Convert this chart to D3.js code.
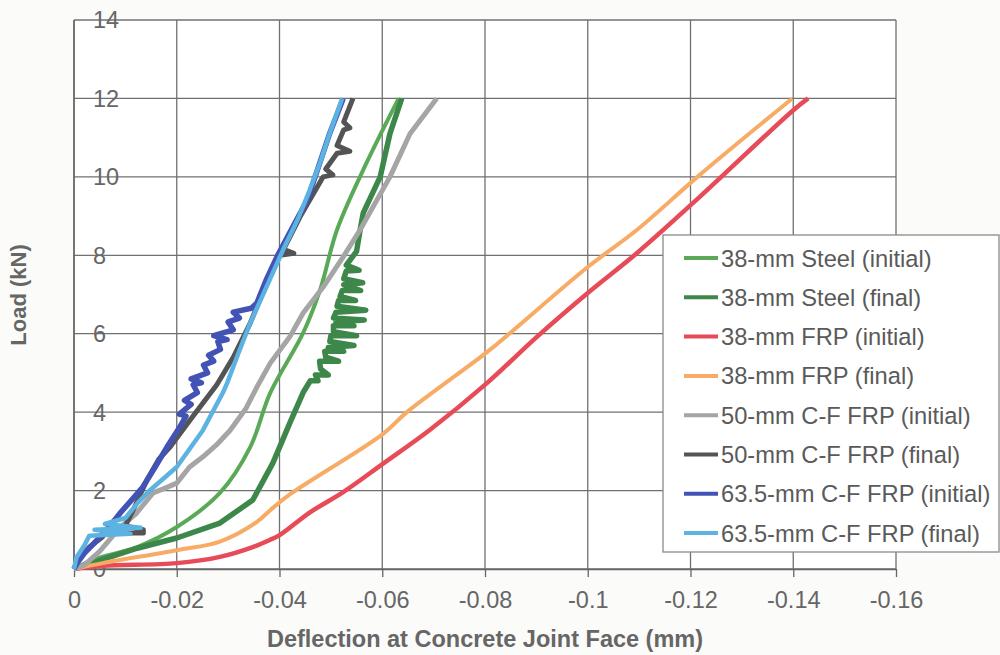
<!DOCTYPE html>
<html>
<head>
<meta charset="utf-8">
<script src="https://cdn.jsdelivr.net/npm/d3@7"></script>
<style>
  body { margin: 0; background: #fbfbf9; }
  #plot { width: 1000px; height: 655px; }
  text { font-family: Arial, "Liberation Sans", sans-serif; }
</style>
</head>
<body>
<div id="plot"></div>
<script>
// Axis ticks
const xTicks = [0, -0.02, -0.04, -0.06, -0.08, -0.1, -0.12, -0.14, -0.16];
const yTicks = [0, 2, 4, 6, 8, 10, 12, 14];

// Series names, in legend order
const seriesNames = [
    "38-mm Steel (initial)",
    "38-mm Steel (final)",
    "38-mm FRP (initial)",
    "38-mm FRP (final)",
    "50-mm C-F FRP (initial)",
    "50-mm C-F FRP (final)",
    "63.5-mm C-F FRP (initial)",
    "63.5-mm C-F FRP (final)"
];

// [deflection (mm), load (kN)]
const steelInitial = [[0, 0], [-0.004, 0.25], [-0.0123, 0.56], [-0.02, 1.07], [-0.0284, 1.94], [-0.0343, 3.11],
    [-0.0382, 4.49], [-0.0446, 6.02], [-0.0479, 7.12], [-0.0512, 8.65], [-0.0563, 10.18], [-0.0596, 11.07], [-0.0632, 12.0]];

const steelFinal = [[0, 0], [-0.005, 0.22], [-0.0123, 0.53], [-0.02, 0.79], [-0.0284, 1.17], [-0.0348, 1.76],
    [-0.0387, 2.7], [-0.042, 3.72], [-0.0446, 4.5], [-0.046, 4.8], [-0.0475, 4.8], [-0.047, 4.95], [-0.0495, 4.95],
    [-0.048, 5.1], [-0.0478, 5.3], [-0.0515, 5.3], [-0.049, 5.4], [-0.0488, 5.55], [-0.0525, 5.55], [-0.0495, 5.65],
    [-0.0545, 5.7], [-0.0498, 5.8], [-0.050, 5.95], [-0.055, 5.95], [-0.0505, 6.05], [-0.0505, 6.2], [-0.0545, 6.2],
    [-0.051, 6.3], [-0.0565, 6.35], [-0.0505, 6.4], [-0.051, 6.55], [-0.0568, 6.6], [-0.0512, 6.7], [-0.0515, 6.85],
    [-0.0548, 6.85], [-0.0518, 6.95], [-0.0522, 7.1], [-0.0558, 7.1], [-0.0525, 7.25], [-0.0562, 7.3], [-0.0525, 7.4],
    [-0.053, 7.6], [-0.0555, 7.62], [-0.053, 7.75], [-0.055, 8.1], [-0.0557, 8.65], [-0.0563, 9.08], [-0.0596, 10.0],
    [-0.0615, 11.1], [-0.0638, 12.0]];

const frpInitial = [[0, 0], [-0.0056, 0.08], [-0.02, 0.15], [-0.0284, 0.31], [-0.0348, 0.56], [-0.0381, 0.74],
    [-0.0401, 0.87], [-0.046, 1.45], [-0.0524, 1.96], [-0.0601, 2.68], [-0.0693, 3.55], [-0.0802, 4.72],
    [-0.0901, 5.92], [-0.1, 7.04], [-0.1096, 8.06], [-0.1218, 9.49], [-0.140, 11.7], [-0.1429, 12.0]];

const frpFinal = [[0, 0], [-0.0056, 0.15], [-0.02, 0.48], [-0.0284, 0.7], [-0.0356, 1.2], [-0.0382, 1.5],
    [-0.042, 1.9], [-0.0601, 3.44], [-0.0648, 4.0], [-0.0802, 5.51], [-0.0849, 6.02], [-0.1, 7.7],
    [-0.1096, 8.65], [-0.1218, 10.05], [-0.1398, 12.0]];

const cf50Initial = [[0, 0], [-0.002, 0.1], [-0.005, 0.45], [-0.009, 1.07], [-0.012, 1.4], [-0.0154, 1.94],
    [-0.0175, 2.05], [-0.02, 2.19], [-0.0225, 2.6], [-0.0251, 2.86], [-0.028, 3.2], [-0.0304, 3.54],
    [-0.0335, 4.1], [-0.0356, 4.64], [-0.0382, 5.25], [-0.042, 5.92], [-0.0446, 6.53], [-0.0485, 7.19],
    [-0.0524, 7.96], [-0.0557, 8.65], [-0.0615, 10.0], [-0.0654, 11.1], [-0.0706, 12.0]];

const cf50Final = [[0, 0], [-0.001, 0.3], [-0.003, 0.56], [-0.0056, 0.82], [-0.0056, 0.92], [-0.0135, 0.92],
    [-0.0135, 1.0], [-0.010, 1.1], [-0.0115, 1.5], [-0.0142, 2.27], [-0.0165, 2.8], [-0.0187, 3.11],
    [-0.0226, 3.8], [-0.0278, 4.7], [-0.031, 5.4], [-0.0343, 6.27], [-0.0372, 7.2], [-0.0401, 8.0],
    [-0.0428, 8.05], [-0.0408, 8.15], [-0.044, 8.98], [-0.0485, 10.0], [-0.0504, 10.05], [-0.049, 10.2],
    [-0.0512, 10.6], [-0.0537, 10.65], [-0.0512, 10.8], [-0.0525, 11.2], [-0.0537, 11.25], [-0.0525, 11.4],
    [-0.0543, 12.0]];

const cf63Initial = [[0, 0], [-0.0006, 0.15], [-0.002, 0.4], [-0.0045, 0.74], [-0.007, 1.1], [-0.009, 1.43],
    [-0.0115, 1.8], [-0.0134, 2.09], [-0.0158, 2.6], [-0.0181, 3.11], [-0.0205, 3.6], [-0.0218, 3.9],
    [-0.0205, 3.95], [-0.0228, 4.2], [-0.0215, 4.3], [-0.024, 4.5], [-0.0232, 4.7], [-0.0248, 4.75],
    [-0.0228, 4.85], [-0.026, 5.0], [-0.0252, 5.2], [-0.0272, 5.3], [-0.0262, 5.45], [-0.0285, 5.6],
    [-0.028, 5.8], [-0.0298, 5.85], [-0.0272, 5.95], [-0.031, 6.1], [-0.030, 6.3], [-0.0322, 6.4],
    [-0.031, 6.55], [-0.0345, 6.65], [-0.0356, 6.78], [-0.0375, 7.4], [-0.0395, 7.96], [-0.0425, 8.7],
    [-0.0454, 9.41], [-0.0477, 10.3], [-0.0498, 11.12], [-0.0524, 12.0]];

const cf63Final = [[0, 0], [-0.0005, 0.3], [-0.002, 0.6], [-0.003, 0.85], [-0.011, 0.9], [-0.004, 1.0],
    [-0.013, 1.05], [-0.006, 1.15], [-0.010, 1.3], [-0.0125, 1.7], [-0.0148, 2.01], [-0.02, 2.6],
    [-0.0251, 3.54], [-0.029, 4.5], [-0.0298, 4.74], [-0.032, 5.5], [-0.0343, 6.27], [-0.0375, 7.2],
    [-0.0407, 8.14], [-0.0435, 8.9], [-0.0459, 9.67], [-0.048, 10.4], [-0.0498, 11.12], [-0.0522, 12.0]];

const seriesData = [steelInitial, steelFinal, frpInitial, frpFinal, cf50Initial, cf50Final, cf63Initial, cf63Final];
const seriesColors = ["#5aa957", "#3e874a", "#e84b58", "#f7ab64", "#a5a5a5", "#545454", "#4353b5", "#5cb3e2"];
const seriesWidths = [4, 5.5, 4.5, 4, 5, 5, 5.5, 4.5];
const seriesSmooth = [true, false, true, true, false, false, false, false];

// Set up the dimensions and margins
const margin = {top: 20, right: 104, bottom: 86, left: 74};
const width = 1000 - margin.left - margin.right;
const height = 655 - margin.top - margin.bottom;

const svg = d3.select("#plot")
    .append("svg")
    .attr("width", 1000)
    .attr("height", 655);

const g = svg.append("g")
    .attr("transform", `translate(${margin.left},${margin.top})`);

// Scales (deflection is negative, plotted to the right)
const x = d3.scaleLinear().domain([0, -0.16]).range([0, width]);
const y = d3.scaleLinear().domain([0, 14]).range([height, 0]);

// Plot background
g.append("rect")
    .attr("width", width)
    .attr("height", height)
    .attr("fill", "#ffffff");

// Grid
g.append("g")
    .selectAll("line")
    .data(xTicks)
    .join("line")
    .attr("x1", d => x(d)).attr("x2", d => x(d))
    .attr("y1", 0).attr("y2", height)
    .attr("stroke", "#707070")
    .attr("stroke-width", 1.3);

g.append("g")
    .selectAll("line")
    .data(yTicks)
    .join("line")
    .attr("x1", 0).attr("x2", width)
    .attr("y1", d => y(d)).attr("y2", d => y(d))
    .attr("stroke", "#707070")
    .attr("stroke-width", 1.3);

// X axis
const xAxis = g.append("g")
    .attr("transform", `translate(0,${height})`)
    .call(d3.axisBottom(x)
        .tickValues(xTicks)
        .tickSize(8)
        .tickSizeOuter(0)
        .tickPadding(14)
        .tickFormat(d => d === 0 ? "0" : String(+d.toFixed(2)))
    );
xAxis.select(".domain").attr("stroke", "#666").attr("stroke-width", 1.5);
xAxis.selectAll(".tick line").attr("stroke", "#666").attr("stroke-width", 1.3);
xAxis.selectAll(".tick text")
    .attr("fill", "#666")
    .style("font-size", "23.5px")
    .style("font-family", "Arial, 'Liberation Sans', sans-serif");

// Y axis line
g.append("line")
    .attr("x1", 0).attr("x2", 0)
    .attr("y1", 0).attr("y2", height)
    .attr("stroke", "#666")
    .attr("stroke-width", 1.5);

// Y tick labels (sit just inside the axis in the original)
g.append("g")
    .selectAll("text")
    .data(yTicks)
    .join("text")
    .attr("x", 19)
    .attr("y", d => y(d))
    .attr("dy", "0.36em")
    .attr("fill", "#666")
    .style("font-size", "23.5px")
    .text(d => d);

// Series lines
const lineStraight = d3.line()
    .x(d => x(d[0]))
    .y(d => y(d[1]));

const lineSmooth = d3.line()
    .curve(d3.curveCatmullRom.alpha(0.5))
    .x(d => x(d[0]))
    .y(d => y(d[1]));

seriesData.forEach((data, i) => {
    g.append("path")
        .datum(data)
        .attr("fill", "none")
        .attr("stroke", seriesColors[i])
        .attr("stroke-width", seriesWidths[i])
        .attr("stroke-linejoin", "round")
        .attr("d", seriesSmooth[i] ? lineSmooth : lineStraight);
});

// Axis titles
svg.append("text")
    .attr("text-anchor", "middle")
    .attr("x", 485)
    .attr("y", 647)
    .attr("fill", "#666")
    .style("font-size", "23.5px")
    .style("font-weight", "bold")
    .text("Deflection at Concrete Joint Face (mm)");

svg.append("text")
    .attr("text-anchor", "middle")
    .attr("transform", "rotate(-90)")
    .attr("x", -295)
    .attr("y", 26)
    .attr("fill", "#666")
    .style("font-size", "22px")
    .style("font-weight", "bold")
    .text("Load (kN)");

// Legend
const legend = svg.append("g").attr("transform", "translate(663,235)");
legend.append("rect")
    .attr("width", 336)
    .attr("height", 317)
    .attr("fill", "#ffffff")
    .attr("stroke", "#8a8a8a")
    .attr("stroke-width", 1.3);

const items = legend.selectAll("g.item")
    .data(seriesNames)
    .join("g")
    .attr("class", "item")
    .attr("transform", (d, i) => `translate(0,${23 + i * 39.3})`);

items.append("line")
    .attr("x1", 21).attr("x2", 55)
    .attr("y1", 0).attr("y2", 0)
    .attr("stroke", (d, i) => seriesColors[i])
    .attr("stroke-width", 4);

items.append("text")
    .attr("x", 58)
    .attr("y", 0)
    .attr("dy", "0.36em")
    .attr("fill", "#5a5a5a")
    .style("font-size", "23.7px")
    .text(d => d);
</script>
</body>
</html>
